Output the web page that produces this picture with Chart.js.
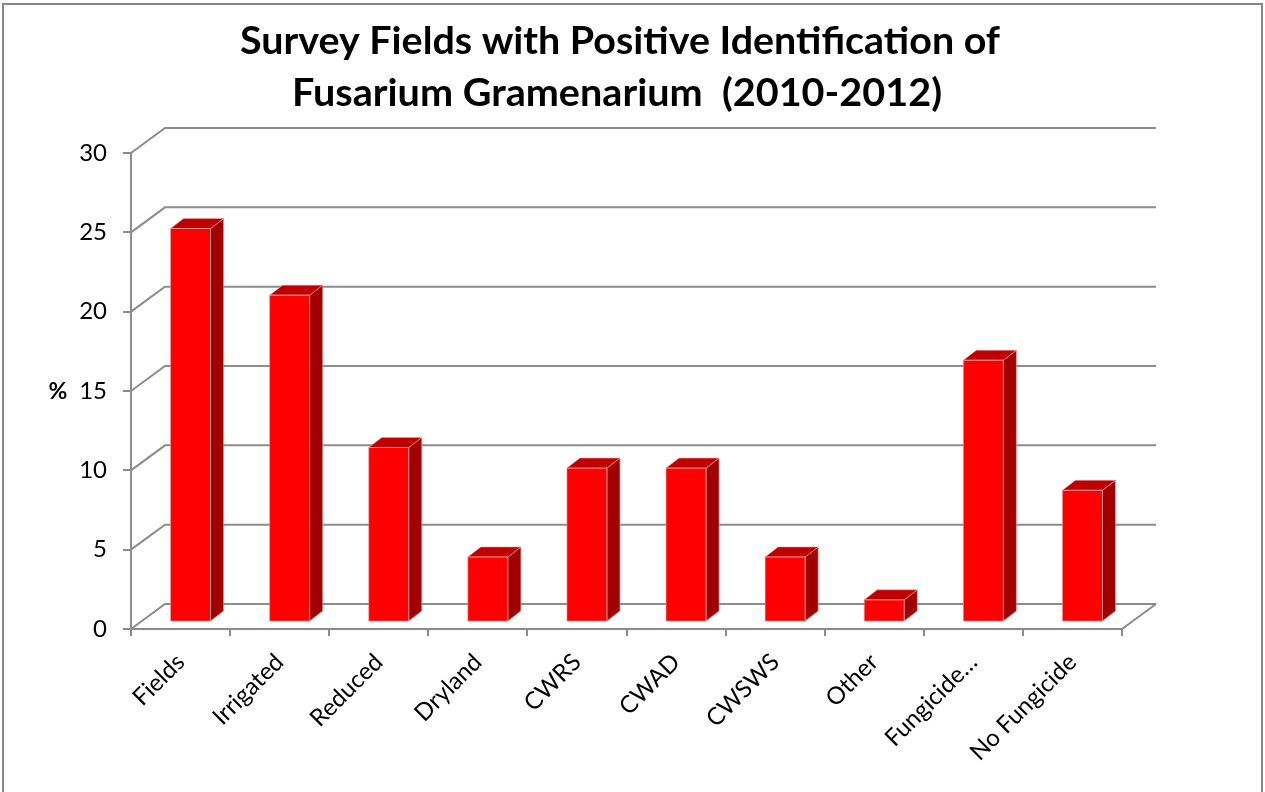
<!DOCTYPE html>
<html>
<head>
<meta charset="utf-8">
<title>Survey Fields with Positive Identification of Fusarium Gramenarium (2010-2012)</title>
<script src="https://cdn.jsdelivr.net/npm/chart.js@4.4.1/dist/chart.umd.min.js"></script>
<style>
  html, body { margin: 0; padding: 0; background: #ffffff; }
  #wrap { width: 1265px; height: 792px; }
</style>
</head>
<body>
<div id="wrap"><canvas id="chart" width="1265" height="792"></canvas></div>
<script>
// ---- data ----
const titleLines = ['Survey Fields with Positive Identification of', 'Fusarium Gramenarium  (2010-2012)'];
const categories = ['Fields', 'Irrigated', 'Reduced', 'Dryland', 'CWRS', 'CWAD', 'CWSWS', 'Other', 'Fungicide\u2026', 'No Fungicide'];
const percentPositive = [24.8, 20.6, 11.0, 4.1, 9.7, 9.7, 4.1, 1.4, 16.5, 8.3];
const yTicks = [0, 5, 10, 15, 20, 25, 30];
const yAxisLabel = '%';

// ---- styling ----
const GRID = '#8c8c8c';
const FACE = '#ff0000';
const SIDE = '#a00000';
const TOP = '#c00000';
const EDGE = 'rgba(235,160,160,0.6)';
const FONT = 'Lato, "Open Sans", "DejaVu Sans", sans-serif';

// oblique projection: back wall offset, bar front offset, bar depth
const WALL = { dx: 34, dy: -25 };
const BAR_FRONT = { dx: 10, dy: -7 };
const BAR_DEPTH = { dx: 13, dy: -10 };

const depth3d = {
  id: 'depth3d',
  beforeDraw(chart) {
    const ctx = chart.ctx;
    ctx.save();
    ctx.fillStyle = '#ffffff';
    ctx.fillRect(0, 0, chart.width, chart.height);
    ctx.strokeStyle = '#878787';
    ctx.lineWidth = 2;
    ctx.strokeRect(3, 4, chart.width - 6, chart.height + 10);
    ctx.restore();
  },
  beforeDatasetsDraw(chart) {
    const ctx = chart.ctx;
    const a = chart.chartArea;
    const ys = chart.scales.y;
    ctx.save();
    ctx.strokeStyle = GRID;
    ctx.lineWidth = 2;
    ctx.lineCap = 'butt';
    // side wall diagonals and back wall gridlines
    yTicks.forEach(v => {
      const y = ys.getPixelForValue(v);
      ctx.beginPath();
      ctx.moveTo(a.left, y);
      ctx.lineTo(a.left + WALL.dx, y + WALL.dy);
      ctx.lineTo(a.right + WALL.dx, y + WALL.dy);
      ctx.stroke();
    });
    // right edge of the floor
    ctx.beginPath();
    ctx.moveTo(a.right, a.bottom);
    ctx.lineTo(a.right + WALL.dx, a.bottom + WALL.dy);
    ctx.stroke();
    ctx.restore();
    // bars sit a little behind the front plane
    ctx.save();
    ctx.translate(BAR_FRONT.dx, BAR_FRONT.dy);
  },
  afterDatasetsDraw(chart) {
    const ctx = chart.ctx;
    const meta = chart.getDatasetMeta(0);
    meta.data.forEach(bar => {
      const p = bar.getProps(['x', 'y', 'base', 'width'], true);
      const l = p.x - p.width / 2;
      const r = p.x + p.width / 2;
      // right side face
      ctx.beginPath();
      ctx.moveTo(r, p.y);
      ctx.lineTo(r + BAR_DEPTH.dx, p.y + BAR_DEPTH.dy);
      ctx.lineTo(r + BAR_DEPTH.dx, p.base + BAR_DEPTH.dy);
      ctx.lineTo(r, p.base);
      ctx.closePath();
      ctx.fillStyle = SIDE;
      ctx.fill();
      ctx.strokeStyle = EDGE;
      ctx.lineWidth = 1;
      ctx.stroke();
      // top face
      ctx.beginPath();
      ctx.moveTo(l, p.y);
      ctx.lineTo(l + BAR_DEPTH.dx, p.y + BAR_DEPTH.dy);
      ctx.lineTo(r + BAR_DEPTH.dx, p.y + BAR_DEPTH.dy);
      ctx.lineTo(r, p.y);
      ctx.closePath();
      ctx.fillStyle = TOP;
      ctx.fill();
      ctx.stroke();
      // front outline
      ctx.strokeRect(l, p.y, p.width, p.base - p.y);
    });
    ctx.restore();
  },
  afterDraw(chart) {
    const ctx = chart.ctx;
    const ys = chart.scales.y;
    ctx.save();
    ctx.fillStyle = '#000000';
    // two-line chart title, fitted to its line widths
    ctx.font = 'bold 38px ' + FONT;
    ctx.textAlign = 'center';
    ctx.textBaseline = 'alphabetic';
    const lines = [
      { text: titleLines[0], cx: 620, base: 54, w: 760 },
      { text: titleLines[1], cx: 617, base: 106, w: 650 }
    ];
    lines.forEach(L => {
      const m = ctx.measureText(L.text).width;
      ctx.save();
      ctx.translate(L.cx, L.base);
      ctx.scale(L.w / m, 1);
      ctx.fillText(L.text, 0, 0);
      ctx.restore();
    });
    // value axis label
    ctx.font = 'bold 23px ' + FONT;
    ctx.textBaseline = 'middle';
    ctx.fillText(yAxisLabel, 58, ys.getPixelForValue(15) + 1);
    ctx.restore();
  }
};

new Chart(document.getElementById('chart'), {
  type: 'bar',
  data: {
    labels: categories,
    datasets: [{
      data: percentPositive,
      backgroundColor: FACE,
      borderWidth: 0,
      categoryPercentage: 0.8,
      barPercentage: 0.505,
      clip: false
    }]
  },
  options: {
    responsive: false,
    devicePixelRatio: 1,
    animation: false,
    layout: { padding: { top: 153, right: 143, bottom: 0, left: 0 } },
    plugins: {
      legend: { display: false },
      tooltip: { enabled: false },
      title: { display: false }
    },
    scales: {
      x: {
        type: 'category',
        offset: true,
        grid: { offset: true, drawOnChartArea: false, tickLength: 7, color: GRID, lineWidth: 2 },
        border: { display: true, color: GRID, width: 2 },
        ticks: {
          autoSkip: false,
          minRotation: 45,
          maxRotation: 45,
          padding: 12,
          color: '#000000',
          font: { family: FONT, size: 24 }
        },
        afterFit(s) { s.height = 163; }
      },
      y: {
        min: 0,
        max: 30,
        afterBuildTicks(s) { s.ticks = yTicks.map(v => ({ value: v })); },
        grid: { drawOnChartArea: false, tickLength: 8, color: GRID, lineWidth: 2 },
        border: { display: true, color: GRID, width: 2 },
        ticks: {
          padding: 16,
          color: '#000000',
          font: { family: FONT, size: 24 }
        },
        afterFit(s) { s.width = 131; }
      }
    }
  },
  plugins: [depth3d]
});
</script>
</body>
</html>
